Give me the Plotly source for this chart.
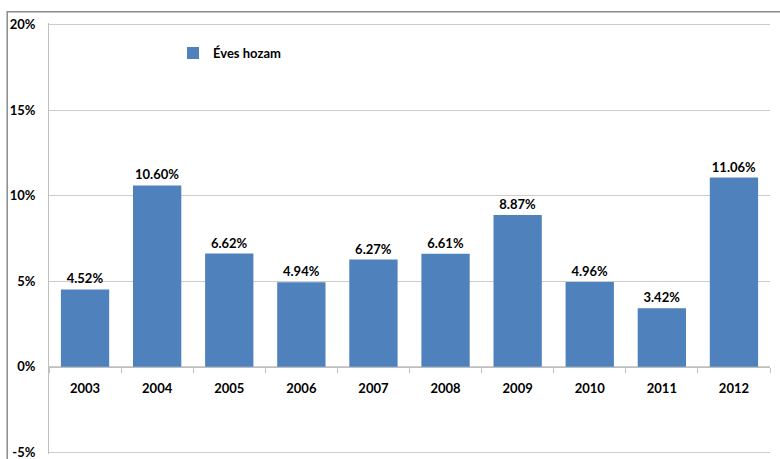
import plotly.graph_objects as go

years = ["2003", "2004", "2005", "2006", "2007", "2008", "2009", "2010", "2011", "2012"]
returns = [4.52, 10.60, 6.62, 4.94, 6.27, 6.61, 8.87, 4.96, 3.42, 11.06]
labels = [f"{v:.2f}%" for v in returns]
series_name = "Éves hozam"
y_ticks = [-5, 0, 5, 10, 15, 20]
y_ticktext = [f"{t}%" for t in y_ticks]
y_range = [-5.1, 20.1]

FONT = "Lato"

fig = go.Figure()
fig.add_trace(go.Bar(
    x=years, y=returns, name=series_name,
    marker=dict(color="#4F81BD", line=dict(width=0)),
    text=labels, textposition="outside", cliponaxis=False,
    textfont=dict(family=FONT, size=13, color="#000000", weight="bold"),
))

fig.update_layout(
    width=780, height=459,
    margin=dict(l=49, r=10, t=23.3, b=5.3, autoexpand=False),
    paper_bgcolor="white", plot_bgcolor="white",
    bargap=0.33,
    showlegend=True,
    legend=dict(x=0.172, y=0.93, xanchor="left", yanchor="middle",
                itemwidth=30,
                font=dict(family=FONT, size=13, color="#000", weight="bold"),
                bgcolor="rgba(0,0,0,0)"),
    xaxis=dict(
        type="category", anchor="free",
        position=(0 - y_range[0]) / (y_range[1] - y_range[0]),
        showline=True, linecolor="#bfbfbf", linewidth=1,
        ticks="outside", ticklen=5, tickcolor="#bfbfbf", tickson="boundaries",
        tickfont=dict(family=FONT, size=13, color="#000", weight="bold"),
        ticklabelstandoff=10, automargin=False,
        showgrid=False, fixedrange=True,
    ),
    yaxis=dict(
        range=y_range, tickvals=y_ticks, ticktext=y_ticktext,
        showgrid=True, gridcolor="#cccccc", gridwidth=1,
        showline=True, linecolor="#bfbfbf", linewidth=1,
        zeroline=False, ticklabeloverflow="allow", automargin=False,
        tickfont=dict(family=FONT, size=13, color="#000", weight="bold"),
        ticklabelstandoff=10, fixedrange=True,
    ),
    shapes=[dict(type="rect", xref="paper", yref="paper",
                 x0=-0.058, x1=1.05, y0=-0.1, y1=1.026,
                 line=dict(color="#8c8c8c", width=1.5), layer="below")],
)

fig.write_html("out.html", config={"displayModeBar": False},
               post_script="document.body.style.margin='0';")
